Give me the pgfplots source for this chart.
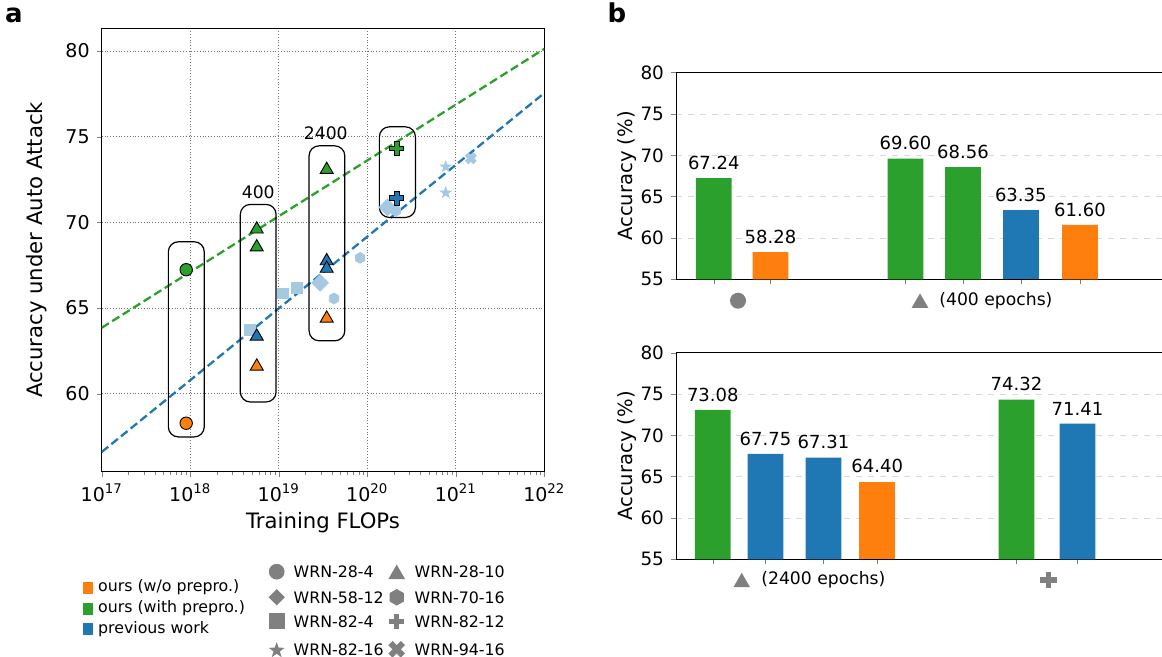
\documentclass[border=0pt]{standalone}
\usepackage{pgfplots}
\pgfplotsset{compat=1.18}
\usepackage{fontspec}
\setmainfont{DejaVu Sans}
\usetikzlibrary{shapes.geometric}

\definecolor{tgreen}{HTML}{2CA02C}
\definecolor{torange}{HTML}{FF7F0E}
\definecolor{tblue}{HTML}{1F77B4}
\definecolor{lblue}{RGB}{165,201,225}
\definecolor{mgray}{HTML}{808080}

% filled marks like matplotlib's P, X, h and *
\pgfdeclareplotmark{fatplus}{%
  \pgfpathmoveto{\pgfqpoint{-0.36\pgfplotmarksize}{\pgfplotmarksize}}%
  \pgfpathlineto{\pgfqpoint{0.36\pgfplotmarksize}{\pgfplotmarksize}}%
  \pgfpathlineto{\pgfqpoint{0.36\pgfplotmarksize}{0.36\pgfplotmarksize}}%
  \pgfpathlineto{\pgfqpoint{\pgfplotmarksize}{0.36\pgfplotmarksize}}%
  \pgfpathlineto{\pgfqpoint{\pgfplotmarksize}{-0.36\pgfplotmarksize}}%
  \pgfpathlineto{\pgfqpoint{0.36\pgfplotmarksize}{-0.36\pgfplotmarksize}}%
  \pgfpathlineto{\pgfqpoint{0.36\pgfplotmarksize}{-\pgfplotmarksize}}%
  \pgfpathlineto{\pgfqpoint{-0.36\pgfplotmarksize}{-\pgfplotmarksize}}%
  \pgfpathlineto{\pgfqpoint{-0.36\pgfplotmarksize}{-0.36\pgfplotmarksize}}%
  \pgfpathlineto{\pgfqpoint{-\pgfplotmarksize}{-0.36\pgfplotmarksize}}%
  \pgfpathlineto{\pgfqpoint{-\pgfplotmarksize}{0.36\pgfplotmarksize}}%
  \pgfpathlineto{\pgfqpoint{-0.36\pgfplotmarksize}{0.36\pgfplotmarksize}}%
  \pgfpathclose
  \pgfusepathqfillstroke}
\pgfdeclareplotmark{fatx}{%
  \pgftransformrotate{45}%
  \pgfuseplotmark{fatplus}}
\pgfdeclareplotmark{hexa}{%
  \pgfpathmoveto{\pgfqpointpolar{90}{\pgfplotmarksize}}%
  \pgfpathlineto{\pgfqpointpolar{150}{\pgfplotmarksize}}%
  \pgfpathlineto{\pgfqpointpolar{210}{\pgfplotmarksize}}%
  \pgfpathlineto{\pgfqpointpolar{270}{\pgfplotmarksize}}%
  \pgfpathlineto{\pgfqpointpolar{330}{\pgfplotmarksize}}%
  \pgfpathlineto{\pgfqpointpolar{30}{\pgfplotmarksize}}%
  \pgfpathclose
  \pgfusepathqfillstroke}
\pgfdeclareplotmark{fstar}{%
  \pgfpathmoveto{\pgfqpointpolar{90}{\pgfplotmarksize}}%
  \pgfpathlineto{\pgfqpointpolar{126}{0.4\pgfplotmarksize}}%
  \pgfpathlineto{\pgfqpointpolar{162}{\pgfplotmarksize}}%
  \pgfpathlineto{\pgfqpointpolar{198}{0.4\pgfplotmarksize}}%
  \pgfpathlineto{\pgfqpointpolar{234}{\pgfplotmarksize}}%
  \pgfpathlineto{\pgfqpointpolar{270}{0.4\pgfplotmarksize}}%
  \pgfpathlineto{\pgfqpointpolar{306}{\pgfplotmarksize}}%
  \pgfpathlineto{\pgfqpointpolar{342}{0.4\pgfplotmarksize}}%
  \pgfpathlineto{\pgfqpointpolar{18}{\pgfplotmarksize}}%
  \pgfpathlineto{\pgfqpointpolar{54}{0.4\pgfplotmarksize}}%
  \pgfpathclose
  \pgfusepathqfillstroke}

\pgfplotsset{
  /pgf/number format/assume math mode=true,
  barpanel/.style={
    scale only axis, width=247pt, height=103.3pt,
    xmin=676, xmax=1170, ymin=55, ymax=80,
    ytick={55,60,65,70,75,80},
    xticklabels={},
    ymajorgrids, major grid style={dashed, black!15, line width=0.4pt},
    tick align=outside, tick pos=left, major tick length=2.5pt,
    axis line style={line width=0.5pt},
    ticklabel style={font=\fontsize{9.2}{11}\selectfont},
    ylabel={Accuracy (\%)},
    ylabel style={at={(axis description cs:-0.099,0.5)}, anchor=center,
      font=\fontsize{9.8}{11}\selectfont},
    ybar, bar width=35.7,
    nodes near coords={\pgfmathprintnumber[fixed,fixed zerofill,precision=2]{\pgfplotspointmeta}},
    every node near coord/.append style={font=\fontsize{9}{11}\selectfont,
      inner sep=1pt, yshift=3pt, black},
  },
}

\begin{document}
\begin{tikzpicture}
\useasboundingbox (0,0) rectangle (581pt,-328.5pt);

% ---------------- panel a ----------------
\node[font=\fontsize{13}{15}\selectfont\bfseries, anchor=base] at (7pt,-11.35pt) {a};
\begin{axis}[
  at={(50.85pt,-235.85pt)}, anchor=south west,
  scale only axis, width=221.3pt, height=221.7pt,
  xmode=log, xmin=1e17, xmax=1e22, ymin=55.45, ymax=81.33,
  xtick={1e17,1e18,1e19,1e20,1e21,1e22},
  xticklabels={10\textsuperscript{17},10\textsuperscript{18},10\textsuperscript{19},10\textsuperscript{20},10\textsuperscript{21},10\textsuperscript{22}},
  ytick={60,65,70,75,80},
  grid=major, major grid style={densely dotted, black!55, line width=0.45pt},
  tick align=outside, tick pos=left,
  major tick length=2.5pt, minor tick length=1.5pt,
  axis line style={line width=0.5pt},
  ticklabel style={font=\fontsize{9.5}{11}\selectfont},
  xlabel={Training FLOPs}, ylabel={Accuracy under Auto Attack},
  label style={font=\fontsize{10.6}{12}\selectfont},
  xlabel style={at={(axis description cs:0.5,-0.1157)}, anchor=center},
  ylabel style={at={(axis description cs:-0.1469,0.5)}, anchor=center},
]
% previous work (light)
\addplot[only marks, mark=square*, mark size=2.7pt, mark options={fill=lblue, draw=lblue}]
  coordinates {(4.7e18,63.71) (1.11e19,65.86) (1.6e19,66.18)};
\addplot[only marks, mark=square*, mark size=2.95pt, mark options={rotate=45, fill=lblue, draw=lblue}]
  coordinates {(2.93e19,66.47) (1.69e20,70.88)};
\addplot[only marks, mark=hexa, mark size=2.7pt, mark options={fill=lblue, draw=lblue}]
  coordinates {(4.2e19,65.56) (8.3e19,67.93) (2.1e20,70.68)};
\addplot[only marks, mark=fstar, mark size=2.8pt, mark options={fill=lblue, draw=lblue}]
  coordinates {(7.7e20,73.25) (7.7e20,71.73)};
\addplot[only marks, mark=fatx, mark size=2.8pt, mark options={fill=lblue, draw=lblue}]
  coordinates {(1.48e21,73.74)};
% fits
\addplot[tgreen, line width=1.15pt, dash pattern=on 4.2pt off 2pt, mark=none]
  coordinates {(1e17,63.85) (1e22,80.13)};
\addplot[tblue, line width=1.15pt, dash pattern=on 4.2pt off 2pt, mark=none]
  coordinates {(1e17,56.6) (1e22,77.55)};
% boxes
\draw[rounded corners=5pt, line width=0.6pt] (axis cs:5.66e17,57.48) rectangle (axis cs:1.44e18,68.87);
\draw[rounded corners=5pt, line width=0.6pt] (axis cs:3.68e18,59.52) rectangle (axis cs:9.33e18,71.05);
\draw[rounded corners=5pt, line width=0.6pt] (axis cs:2.2e19,63.09) rectangle (axis cs:5.57e19,74.47);
\draw[rounded corners=5pt, line width=0.6pt] (axis cs:1.37e20,70.29) rectangle (axis cs:3.5e20,75.58);
\node[font=\fontsize{8.6}{10}\selectfont] at (axis cs:5.87e18,71.79) {400};
\node[font=\fontsize{8.6}{10}\selectfont] at (axis cs:3.4e19,75.2) {2400};
% ours and previous (main)
\addplot[only marks, mark=*, mark size=3.1pt, mark options={fill=tgreen, draw=black, line width=0.45pt}]
  coordinates {(9e17,67.24)};
\addplot[only marks, mark=*, mark size=3.1pt, mark options={fill=torange, draw=black, line width=0.45pt}]
  coordinates {(9e17,58.28)};
\addplot[only marks, mark=triangle*, mark size=3.75pt, mark options={fill=tgreen, draw=black, line width=0.45pt}]
  coordinates {(5.64e18,69.60) (5.64e18,68.56) (3.48e19,73.08)};
\addplot[only marks, mark=triangle*, mark size=3.75pt, mark options={fill=tblue, draw=black, line width=0.45pt}]
  coordinates {(5.64e18,63.35) (3.48e19,67.75) (3.48e19,67.31)};
\addplot[only marks, mark=triangle*, mark size=3.75pt, mark options={fill=torange, draw=black, line width=0.45pt}]
  coordinates {(5.64e18,61.60) (3.48e19,64.40)};
\addplot[only marks, mark=fatplus, mark size=3.4pt, mark options={fill=tgreen, draw=black, line width=0.45pt}]
  coordinates {(2.15e20,74.32)};
\addplot[only marks, mark=fatplus, mark size=3.4pt, mark options={fill=tblue, draw=black, line width=0.45pt}]
  coordinates {(2.15e20,71.41)};
\end{axis}

% legend of panel a
\begin{scope}[every node/.style={font=\fontsize{7.9}{9}\selectfont, anchor=west, inner sep=0pt}]
\fill[torange] (41.3pt,-291pt) rectangle (46.7pt,-296.8pt);
\fill[tgreen] (41.3pt,-301.5pt) rectangle (46.7pt,-307.3pt);
\fill[tblue] (41.3pt,-311.6pt) rectangle (46.7pt,-317.4pt);
\node at (48.85pt,-293.7pt) {ours (w/o prepro.)};
\node at (48.85pt,-304.2pt) {ours (with prepro.)};
\node at (48.85pt,-314.4pt) {previous work};
% markers
\node[anchor=center, circle, fill=mgray, minimum size=7.85pt] at (138.35pt,-285.85pt) {};
\node[anchor=center, diamond, aspect=1, fill=mgray, minimum size=8.3pt] at (138.35pt,-298.65pt) {};
\node[anchor=center, rectangle, fill=mgray, minimum size=8pt] at (138.35pt,-310.65pt) {};
\node[anchor=center, star, star points=5, star point ratio=2.5, fill=mgray, minimum size=8.4pt] at (138.35pt,-325.2pt) {};
\node[anchor=center, regular polygon, regular polygon sides=3, fill=mgray, minimum size=9.6pt] at (198.35pt,-287.1pt) {};
\node[anchor=center, regular polygon, regular polygon sides=6, shape border rotate=30, fill=mgray, minimum size=8.3pt] at (198.35pt,-298.65pt) {};
\begin{scope}[shift={(198.35pt,-310.65pt)}]
  \fill[mgray] (-3.8pt,-1.3pt) rectangle (3.8pt,1.3pt);
  \fill[mgray] (-1.3pt,-3.8pt) rectangle (1.3pt,3.8pt);
\end{scope}
\begin{scope}[shift={(198.35pt,-324.65pt)}, rotate=45]
  \fill[mgray] (-4.4pt,-1.5pt) rectangle (4.4pt,1.5pt);
  \fill[mgray] (-1.5pt,-4.4pt) rectangle (1.5pt,4.4pt);
\end{scope}
\node at (146.65pt,-285.85pt) {WRN-28-4};
\node at (146.65pt,-298.65pt) {WRN-58-12};
\node at (146.65pt,-310.65pt) {WRN-82-4};
\node at (146.65pt,-324.65pt) {WRN-82-16};
\node at (207.15pt,-285.85pt) {WRN-28-10};
\node at (207.15pt,-298.65pt) {WRN-70-16};
\node at (207.15pt,-310.65pt) {WRN-82-12};
\node at (207.15pt,-324.65pt) {WRN-94-16};
\end{scope}

% ---------------- panel b ----------------
\node[font=\fontsize{13}{15}\selectfont\bfseries, anchor=base] at (308.5pt,-11.35pt) {b};
\begin{axis}[barpanel, at={(338pt,-139.65pt)}, anchor=south west,
  xtick={713.8,770.5,905.5,963,1020.8,1080}]
\addplot[fill=tgreen, draw=none, bar shift=0pt] coordinates {(713.8,67.24) (905.5,69.60) (963,68.56)};
\addplot[fill=torange, draw=none, bar shift=0pt] coordinates {(770.5,58.28) (1080,61.60)};
\addplot[fill=tblue, draw=none, bar shift=0pt] coordinates {(1020.8,63.35)};
\end{axis}
\node[circle, fill=mgray, minimum size=8pt, inner sep=0pt] at (369pt,-150.35pt) {};
\node[regular polygon, regular polygon sides=3, fill=mgray, minimum size=9.6pt, inner sep=0pt] at (460pt,-151.5pt) {};
\node[font=\fontsize{8.6}{10}\selectfont, anchor=west, inner sep=0pt] at (469.5pt,-150.35pt) {(400 epochs)};

\begin{axis}[barpanel, at={(338pt,-279.65pt)}, anchor=south west,
  xtick={712.8,765.5,823.5,877.2,1016.5,1077.5}]
\addplot[fill=tgreen, draw=none, bar shift=0pt] coordinates {(712.8,73.08) (1016.5,74.32)};
\addplot[fill=tblue, draw=none, bar shift=0pt] coordinates {(765.5,67.75) (823.5,67.31) (1077.5,71.41)};
\addplot[fill=torange, draw=none, bar shift=0pt] coordinates {(877.2,64.40)};
\end{axis}
\node[regular polygon, regular polygon sides=3, fill=mgray, minimum size=9.6pt, inner sep=0pt] at (370.85pt,-291.2pt) {};
\node[font=\fontsize{8.6}{10}\selectfont, anchor=west, inner sep=0pt] at (380.5pt,-290pt) {(2400 epochs)};
\begin{scope}[shift={(524.15pt,-290pt)}]
  \fill[mgray] (-4.1pt,-1.4pt) rectangle (4.1pt,1.4pt);
  \fill[mgray] (-1.4pt,-4.1pt) rectangle (1.4pt,4.1pt);
\end{scope}
\end{tikzpicture}
\end{document}
